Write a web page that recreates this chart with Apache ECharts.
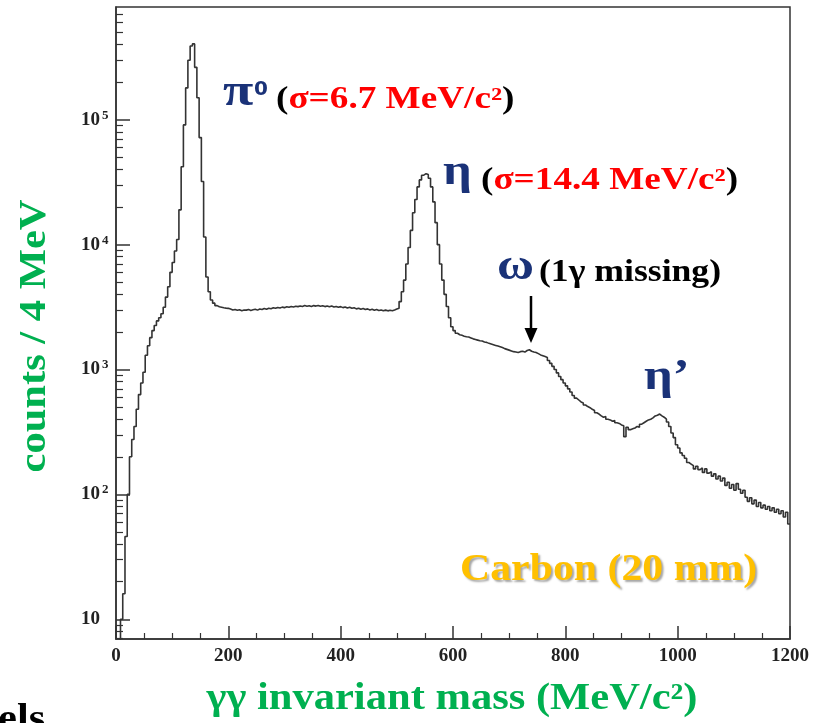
<!DOCTYPE html>
<html>
<head>
<meta charset="utf-8">
<script src="https://cdn.jsdelivr.net/npm/echarts@6/dist/echarts.min.js"></script>
<style>
  html, body { margin: 0; padding: 0; background: #fff; }
  #chart { width: 817px; height: 723px; }
</style>
</head>
<body>
<div id="chart"></div>
<script>
// gamma-gamma invariant mass histogram, 4 MeV bins (left bin edges)
const binWidth = 4;

// 0 .. 196 MeV : pi0 region
const pi0Start = 0;
const pi0Counts = [
  3, 4, 10, 16, 46, 100, 200, 275, 350, 480,
  630, 780, 950, 1300, 1550, 1800, 2050, 2250, 2450, 2600,
  2800, 3150, 3800, 4600, 6000, 7200, 8900, 11000, 19000, 42000,
  91000, 180000, 300000, 390000, 405000, 263000, 150000, 72000, 32000, 11500,
  5500, 4200, 3600, 3400, 3250, 3180, 3150, 3120, 3100, 3090
];

// 200 .. 496 MeV : flat continuum
const flatStart = 200;
const flatCounts = [
  3050, 3000, 3020, 2980, 3010, 2960, 3000, 2990, 3030, 2970,
  3010, 3040, 2990, 3050, 3020, 3080, 3040, 3100, 3070, 3120,
  3090, 3140, 3110, 3160, 3130, 3180, 3150, 3200, 3170, 3210,
  3190, 3230, 3200, 3250, 3210, 3240, 3200, 3250, 3220, 3260,
  3210, 3240, 3190, 3230, 3180, 3220, 3170, 3200, 3150, 3190,
  3130, 3170, 3110, 3150, 3090, 3120, 3060, 3100, 3040, 3080,
  3020, 3060, 3000, 3040, 2980, 3020, 2970, 3000, 2950, 2990,
  2950, 2980, 2960, 3000, 3050
];

// 500 .. 596 MeV : eta peak
const etaStart = 500;
const etaCounts = [
  3100, 3500, 4200, 5200, 7000, 9500, 13000, 18000, 23000, 29000,
  33000, 36000, 37000, 36500, 34000, 29000, 22000, 15000, 10000, 7000,
  5200, 4000, 3200, 2600, 2200
];

// 600 .. 740 MeV : shoulder with omega
const omegaStart = 600;
const omegaCounts = [
  2050, 1950, 1900, 1880, 1850, 1830, 1820, 1790, 1760, 1740,
  1720, 1700, 1690, 1660, 1650, 1620, 1600, 1580, 1560, 1540,
  1520, 1500, 1470, 1450, 1430, 1410, 1390, 1380, 1370, 1390,
  1400, 1380, 1420, 1440, 1400, 1380
];

// 744 .. 1196 MeV : tail with eta'
const tailStart = 744;
const tailCounts = [
  1370, 1340, 1310, 1290, 1270, 1250, 1180, 1120, 1060, 1000,
  940, 880, 830, 780, 740, 700, 660, 620, 590, 570,
  550, 540, 520, 505, 495, 480, 470, 450, 440, 425,
  415, 420, 400, 395, 385, 390, 375, 370, 360, 355,
  290, 345, 330, 335, 340, 350, 345, 365, 375, 385,
  395, 400, 410, 425, 430, 440, 425, 415, 400, 380,
  350, 310, 285, 250, 235, 215, 205, 195, 180, 175,
  170, 160, 168, 158, 163, 150, 160, 148, 152, 140,
  146, 133, 140, 128, 135, 118, 125, 112, 120, 108,
  122, 110, 102, 108, 95, 88, 94, 84, 90, 80,
  86, 78, 82, 76, 80, 74, 78, 72, 76, 70,
  74, 66, 72, 58
];

const xMin = 0, xMax = 1200, xStep = 200;
const yMin = 6.95, yMax = 800000;
const yMajorTicks = [10, 100, 1000, 10000, 100000];
const yMinorTicks = [
  7, 8, 9,
  20, 30, 40, 50, 60, 70, 80, 90,
  200, 300, 400, 500, 600, 700, 800, 900,
  2000, 3000, 4000, 5000, 6000, 7000, 8000, 9000,
  20000, 30000, 40000, 50000, 60000, 70000, 80000, 90000,
  200000, 300000, 400000, 500000, 600000, 700000
];

function toPoints(start, counts) {
  return counts.map((c, i) => [start + i * binWidth, c]);
}
const histData = [].concat(
  toPoints(pi0Start, pi0Counts),
  toPoints(flatStart, flatCounts),
  toPoints(etaStart, etaCounts),
  toPoints(omegaStart, omegaCounts),
  toPoints(tailStart, tailCounts)
);
histData.push([xMax, histData[histData.length - 1][1]]);

const serif = "'Liberation Serif', 'Times New Roman', serif";
const navy = '#1a3278';
const stretch = 1.15;
const tickColor = '#333';

const chart = echarts.init(document.getElementById('chart'), null, { renderer: 'canvas' });

chart.setOption({
  backgroundColor: '#fff',
  animation: false,
  grid: {
    left: 116, right: 27, top: 7, bottom: 84,
    show: true, borderColor: tickColor, borderWidth: 1.5, backgroundColor: 'transparent'
  },
  xAxis: {
    type: 'value', min: xMin, max: xMax, interval: xStep,
    axisLine: { show: true, lineStyle: { color: tickColor, width: 1.5 } },
    axisTick: { show: true, inside: true, length: 13, lineStyle: { color: tickColor, width: 1.5 } },
    minorTick: { show: true, splitNumber: 4, length: 6, lineStyle: { color: tickColor, width: 1.2 } },
    splitLine: { show: false },
    axisLabel: {
      margin: 8, color: '#222', fontFamily: serif, fontWeight: 'bold', fontSize: 19,
      formatter: v => String(v)
    }
  },
  yAxis: [
    {
      type: 'log', min: yMin, max: yMax, position: 'left',
      axisLine: { show: true, lineStyle: { color: tickColor, width: 1.5 } },
      axisTick: { show: true, inside: true, length: 14, customValues: yMajorTicks, lineStyle: { color: tickColor, width: 1.5 } },
      splitLine: { show: false },
      axisLabel: {
        customValues: yMajorTicks,
        align: 'left', margin: 35, color: '#222',
        formatter: function (v) {
          const e = Math.round(Math.log10(v));
          return e === 1 ? '{n|10}' : '{n|10}{s|' + e + '}';
        },
        rich: {
          n: { fontFamily: serif, fontWeight: 'bold', fontSize: 19, lineHeight: 22, color: '#222' },
          s: { fontFamily: serif, fontWeight: 'bold', fontSize: 13, lineHeight: 13, verticalAlign: 'top', color: '#222', padding: [0, 0, 0, 2] }
        }
      }
    },
    {
      type: 'log', min: yMin, max: yMax, position: 'left', offset: 0,
      axisLine: { show: false },
      axisTick: { show: true, inside: true, length: 7, customValues: yMinorTicks, lineStyle: { color: tickColor, width: 1.2 } },
      axisLabel: { show: false },
      splitLine: { show: false }
    }
  ],
  series: [{
    type: 'line',
    step: 'end',
    data: histData,
    yAxisIndex: 0,
    showSymbol: false,
    symbol: 'none',
    clip: true,
    lineStyle: { color: '#333', width: 1.6 }
  }],
  graphic: [
    // pi0
    { type: 'text', x: 223, y: 93, scaleX: 1.2, style: { text: 'π', font: 'bold 46px ' + serif, fill: navy, verticalAlign: 'middle', textVerticalAlign: 'middle' } },
    { type: 'text', x: 254, y: 90, style: { text: '0', font: "bold 20px 'DejaVu Sans', sans-serif", fill: navy, verticalAlign: 'middle', textVerticalAlign: 'middle' } },
    { type: 'text', x: 276, y: 100, scaleX: 1.2, style: {
      text: '{p|(}{r|σ=6.7 MeV/c²}{p|)}', verticalAlign: 'middle', textVerticalAlign: 'middle',
      rich: { p: { font: 'bold 31px ' + serif, fill: '#000' }, r: { font: 'bold 31px ' + serif, fill: '#ff0000' } }
    } },
    // eta
    { type: 'text', x: 443, y: 173, scaleX: stretch, style: { text: 'η', font: 'bold 44px ' + serif, fill: navy, verticalAlign: 'middle', textVerticalAlign: 'middle' } },
    { type: 'text', x: 481, y: 181, scaleX: 1.2, style: {
      text: '{p|(}{r|σ=14.4 MeV/c²}{p|)}', verticalAlign: 'middle', textVerticalAlign: 'middle',
      rich: { p: { font: 'bold 31px ' + serif, fill: '#000' }, r: { font: 'bold 31px ' + serif, fill: '#ff0000' } }
    } },
    // omega
    { type: 'text', x: 497, y: 268, scaleX: stretch, style: { text: 'ω', font: 'bold 44px ' + serif, fill: navy, verticalAlign: 'middle', textVerticalAlign: 'middle' } },
    { type: 'text', x: 539, y: 273, scaleX: stretch, style: { text: '(1γ missing)', font: 'bold 31px ' + serif, fill: '#000', verticalAlign: 'middle', textVerticalAlign: 'middle' } },
    { type: 'line', shape: { x1: 531, y1: 296, x2: 531, y2: 331 }, style: { stroke: '#000', lineWidth: 2.5 } },
    { type: 'polygon', shape: { points: [[524.5, 328], [537.5, 328], [531, 343]] }, style: { fill: '#000' } },
    // eta prime
    { type: 'text', x: 644, y: 378, scaleX: stretch, style: { text: 'η’', font: 'bold 44px ' + serif, fill: navy, verticalAlign: 'middle', textVerticalAlign: 'middle' } },
    // target
    { type: 'text', x: 460, y: 570, scaleX: 1.13, style: {
      text: 'Carbon (20 mm)', font: 'bold 37px ' + serif, fill: '#ffc000',
      verticalAlign: 'middle', textVerticalAlign: 'middle',
      textShadowColor: 'rgba(0,0,0,0.35)', textShadowBlur: 2, textShadowOffsetX: 2, textShadowOffsetY: 2
    } },
    // axis titles
    { type: 'text', x: 452, y: 699, scaleX: stretch, style: {
      text: 'γγ invariant mass (MeV/c²)', font: 'bold 37px ' + serif, fill: '#00b050',
      align: 'center', textAlign: 'center', verticalAlign: 'middle', textVerticalAlign: 'middle'
    } },
    { type: 'text', x: 35, y: 336, rotation: Math.PI / 2, scaleX: stretch, style: {
      text: 'counts / 4 MeV', font: 'bold 37px ' + serif, fill: '#00b050',
      align: 'center', textAlign: 'center', verticalAlign: 'middle', textVerticalAlign: 'middle'
    } },
    { type: 'text', x: -2, y: 720, scaleX: stretch, style: { text: 'els', font: 'bold 37px ' + serif, fill: '#000', verticalAlign: 'middle', textVerticalAlign: 'middle' } }
  ]
});
</script>
</body>
</html>
